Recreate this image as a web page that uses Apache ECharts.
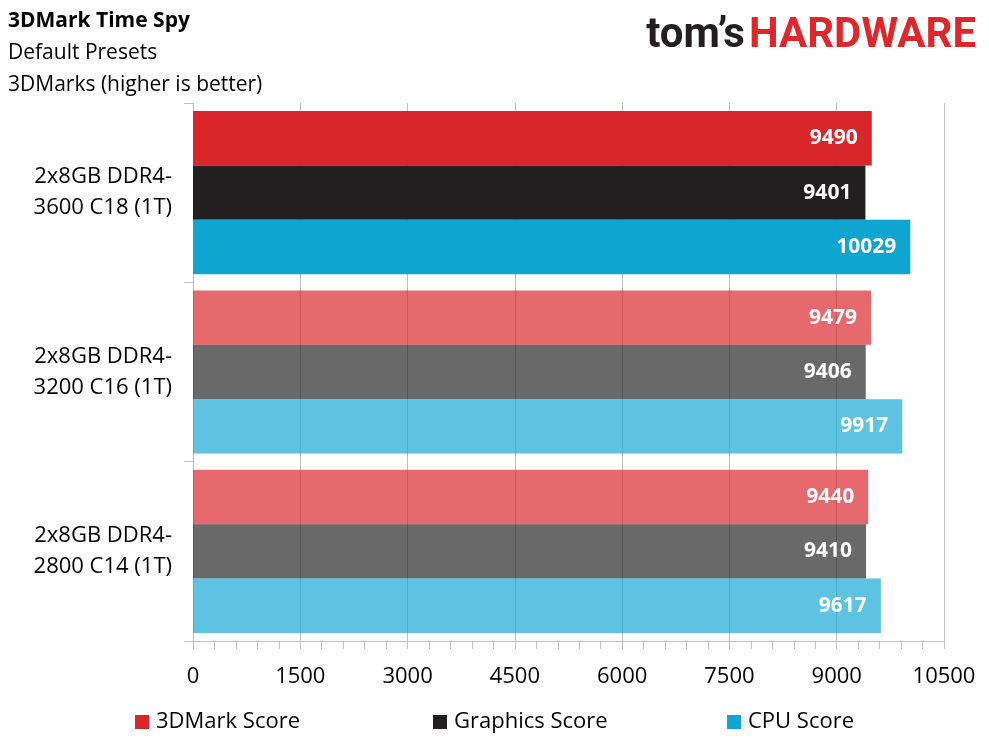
<!DOCTYPE html>
<html>
<head>
<meta charset="utf-8">
<script src="https://cdn.jsdelivr.net/npm/echarts@6/dist/echarts.min.js"></script>
<style>html,body{margin:0;padding:0;background:#fff}#c{width:989px;height:742px}</style>
</head>
<body>
<div id="c"></div>
<script>
var categories = ['2x8GB DDR4-\n3600 C18 (1T)', '2x8GB DDR4-\n3200 C16 (1T)', '2x8GB DDR4-\n2800 C14 (1T)'];
var seriesNames = ['3DMark Score', 'Graphics Score', 'CPU Score'];
var score3DMark = [9490, 9479, 9440];
var scoreGraphics = [9401, 9406, 9410];
var scoreCPU = [10029, 9917, 9617];
var xTicks = [0, 1500, 3000, 4500, 6000, 7500, 9000, 10500];

var FONT = 'Open Sans';
var dark = ['#D9262B', '#211F1F', '#0EA5D1'];
var light = ['rgba(217,38,43,0.69)', 'rgba(33,31,31,0.67)', 'rgba(14,165,209,0.67)'];
var values = [score3DMark, scoreGraphics, scoreCPU];

var series = seriesNames.map(function (name, s) {
  return {
    name: name,
    type: 'bar',
    barGap: '0%',
    barCategoryGap: '9%',
    itemStyle: { color: dark[s] },
    label: {
      show: true, position: 'insideRight', distance: 14,
      color: '#fff', fontFamily: FONT, fontWeight: 'bold', fontSize: 21
    },
    data: values[s].map(function (v, i) {
      return i === 0 ? { value: v } : { value: v, itemStyle: { color: light[s] } };
    })
  };
});

var chart = echarts.init(document.getElementById('c'), null, { renderer: 'canvas' });
chart.setOption({
  animation: false,
  backgroundColor: '#fff',
  textStyle: { fontFamily: FONT },
  grid: { left: 193, right: 45, top: 103, bottom: 101, containLabel: false },
  xAxis: {
    type: 'value', min: xTicks[0], max: xTicks[xTicks.length - 1], interval: xTicks[1] - xTicks[0],
    axisLine: { show: true, lineStyle: { color: '#BFBFBF', width: 1 } },
    axisTick: { show: true, length: 8, inside: false, lineStyle: { color: '#BFBFBF' } },
    minorTick: { show: true, splitNumber: 5, length: 8, lineStyle: { color: '#BFBFBF' } },
    splitLine: { show: true, lineStyle: { color: '#BFBFBF', width: 1 } },
    axisLabel: { color: '#000', fontFamily: FONT, fontSize: 22, margin: 25, formatter: function (v) { return String(v); } }
  },
  yAxis: {
    type: 'category', inverse: true, data: categories,
    axisLine: { show: true, lineStyle: { color: '#BFBFBF' } },
    axisTick: { show: true, length: 9, alignWithLabel: false, lineStyle: { color: '#BFBFBF' } },
    axisLabel: { color: '#000', fontFamily: FONT, fontSize: 22, lineHeight: 31, margin: 21, align: 'right', padding: [5, 0, 0, 0] }
  },
  legend: seriesNames.map(function (n, i) {
    return {
      data: [n], left: [135, 433, 727][i], top: 711, padding: 0,
      itemWidth: 14, itemHeight: 14, itemGap: 0, icon: 'rect',
      textStyle: { color: '#000', fontFamily: FONT, fontSize: 22, padding: [0, 0, 0, 2] }
    };
  }),
  title: [
    { text: '3DMark Time Spy', left: 8, top: 11, padding: 0, textStyle: { fontFamily: FONT, fontSize: 21, fontWeight: 'bold', color: '#000' } },
    { text: 'Default Presets', left: 8, top: 43, padding: 0, textStyle: { fontFamily: FONT, fontSize: 21, fontWeight: 'normal', color: '#000' } },
    { text: '3DMarks (higher is better)', left: 8, top: 75, padding: 0, textStyle: { fontFamily: FONT, fontSize: 21, fontWeight: 'normal', color: '#000' } }
  ],
  graphic: [{
    type: 'text', right: 13, top: 15,
    style: {
      text: '{a|tom’s}{b|HARDWARE}',
      rich: {
        a: { fill: '#231F20', font: 'bold 42px Roboto' },
        b: { fill: '#E0262B', font: 'bold 42px Roboto', padding: [0, 0, 0, 4] }
      }
    }
  }],
  series: series
});
</script>
</body>
</html>
